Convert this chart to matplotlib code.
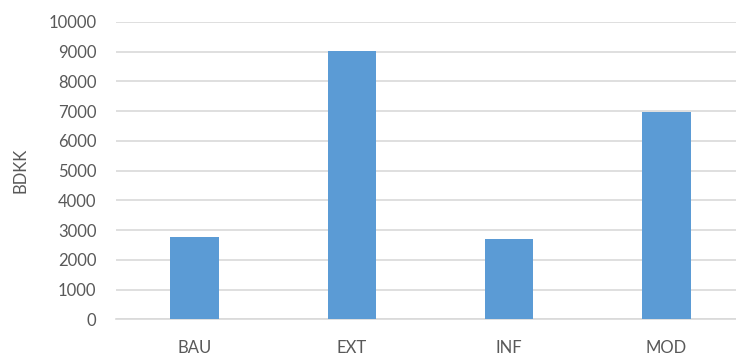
import matplotlib
matplotlib.use("Agg")
import matplotlib.pyplot as plt

# scenario totals
scenarios = ["BAU", "EXT", "INF", "MOD"]
values = [2780, 9010, 2700, 6960]
yticks = list(range(0, 10001, 1000))

plt.rcParams['font.family'] = ['Lato', 'DejaVu Sans']

fig = plt.figure(figsize=(7.36, 3.56), dpi=100)
ax = fig.add_axes([116/736, 36.7/356, 629/736, 297.3/356])

ax.bar(range(len(scenarios)), values, width=0.31, color="#5B9BD5", zorder=3)

ax.set_xlim(-0.5, 3.5)
ax.set_ylim(0, 10000)
ax.set_yticks(yticks)
ax.set_yticklabels([str(t) for t in yticks])
ax.set_xticks(range(len(scenarios)))
ax.set_xticklabels(scenarios)

ax.grid(axis="y", color="#D9D9D9", linewidth=1.2, zorder=0)
for s in ["top", "right", "left"]:
    ax.spines[s].set_visible(False)
ax.spines["bottom"].set_color("#D9D9D9")
ax.spines["bottom"].set_linewidth(1.2)

ax.tick_params(axis="both", length=0, labelsize=12, labelcolor="#595959")
ax.tick_params(axis="y", pad=14)
ax.tick_params(axis="x", pad=15)
ax.set_ylabel("BDKK", fontsize=12, color="#595959", labelpad=14)

fig.savefig("out.png", dpi=100)
